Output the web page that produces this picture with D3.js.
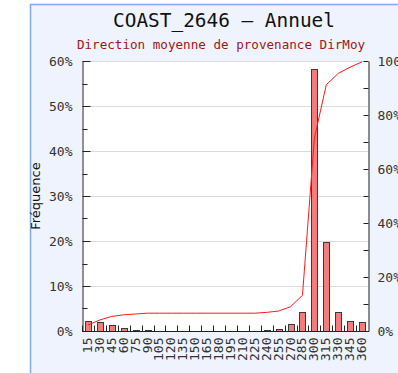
<!DOCTYPE html>
<html><head><meta charset="utf-8">
<script src="https://cdn.jsdelivr.net/npm/d3@7"></script>
<style>html,body{margin:0;padding:0;background:#fff;overflow:hidden}</style>
</head><body>
<svg id="c" width="398" height="373"></svg>
<script>
const categories = [15,30,45,60,75,90,105,120,135,150,165,180,195,210,225,240,255,270,285,300,315,330,345,360];
const frequency = [2.2,1.9,1.3,0.6,0.3,0.3,0,0,0,0,0,0,0,0,0,0.3,0.5,1.6,4.2,58.2,19.8,4.2,2.3,2.0];
const leftTicks = [0,10,20,30,40,50,60];
const rightTicks = [0,20,40,60,80,100];
const title = "COAST_2646 – Annuel";
const subtitle = "Direction moyenne de provenance DirMoy";
const yTitle = "Fréquence";

const cumulative = Array.from(d3.cumsum(frequency));
const svg = d3.select("#c");
const M = {l:82, r:368, t:61, b:331};
const mono = "'DejaVu Sans Mono', monospace";

svg.append("rect").attr("x",30.5).attr("y",4.5).attr("width",420).attr("height",420)
  .attr("fill","#eef3fd").attr("stroke","#7fa8ee").attr("stroke-width",1.5);
svg.append("rect").attr("x",M.l).attr("y",M.t).attr("width",M.r-M.l).attr("height",M.b-M.t).attr("fill","#fff");

svg.append("text").attr("x",224).attr("y",26.5).attr("text-anchor","middle")
  .attr("font-family",mono).attr("font-size",19.4).attr("fill","#111").text(title);
svg.append("text").attr("x",221).attr("y",48.7).attr("text-anchor","middle")
  .attr("font-family",mono).attr("font-size",12.6).attr("fill","#a01515").text(subtitle);

const x = d3.scaleBand().domain(categories).range([M.l,M.r]).padding(0);
const y = d3.scaleLinear().domain([0,60]).range([M.b,M.t]);
const y2 = d3.scaleLinear().domain([0,100]).range([M.b,M.t]);

// gridlines
svg.append("g").selectAll("line").data(leftTicks.filter(d=>d>0)).join("line")
  .attr("x1",M.l).attr("x2",M.r).attr("y1",d=>Math.round(y(d))+0.5).attr("y2",d=>Math.round(y(d))+0.5)
  .attr("stroke","#dcdcdc").attr("stroke-width",1);

// bars
const bw = 6;
svg.append("g").selectAll("rect").data(categories.map((c,i)=>({c,v:frequency[i]})).filter(d=>d.v>0)).join("rect")
  .attr("x",d=>Math.round(x(d.c)+x.bandwidth()/2-bw/2)+0.5)
  .attr("y",d=>Math.round(y(d.v))+0.5)
  .attr("width",bw)
  .attr("height",d=>Math.max(0,Math.round(y(0))-Math.round(y(d.v))))
  .attr("fill","#f47c7c").attr("stroke","#3a3a3a").attr("stroke-width",1);

// cumulative line
const line = d3.line().x((d,i)=>x(categories[i])+x.bandwidth()/2).y(d=>y2(d));
svg.append("path").datum(cumulative).attr("d",line).attr("fill","none")
  .attr("stroke","#ff1a1a").attr("stroke-width",1);

// left axis
const gl = svg.append("g").attr("transform",`translate(${M.l+0.5},0)`);
gl.call(d3.axisLeft(y).tickValues(leftTicks).tickSize(0).tickFormat(d=>d+"%"));
gl.select(".domain").attr("stroke","#222");
gl.selectAll("text").attr("font-family",mono).attr("font-size",13).attr("fill","#333").attr("x",-10);
gl.selectAll(".mj").data(d3.range(0,61,5)).join("line").attr("class","mj")
  .attr("x1",0).attr("x2",d=>d%10===0?8:5).attr("y1",d=>Math.round(y(d))+0.5).attr("y2",d=>Math.round(y(d))+0.5)
  .attr("stroke","#222");

// right axis
const gr = svg.append("g").attr("transform",`translate(${M.r+0.5},0)`);
gr.call(d3.axisRight(y2).tickValues(rightTicks).tickSize(0).tickFormat(d=>d+"%"));
gr.select(".domain").attr("stroke","#222");
gr.selectAll("text").attr("font-family",mono).attr("font-size",13).attr("fill","#333").attr("x",9);
gr.selectAll(".mj").data(d3.range(0,101,10)).join("line").attr("class","mj")
  .attr("x1",0).attr("x2",-5).attr("y1",d=>Math.round(y2(d))+0.5).attr("y2",d=>Math.round(y2(d))+0.5)
  .attr("stroke","#222");

// bottom axis
const gb = svg.append("g").attr("transform",`translate(0,${M.b+0.5})`);
gb.append("line").attr("x1",M.l).attr("x2",M.r+1).attr("stroke","#222");
gb.selectAll(".tk").data(categories).join("line").attr("class","tk")
  .attr("x1",d=>Math.round(x(d))+0.5).attr("x2",d=>Math.round(x(d))+0.5).attr("y1",0).attr("y2",-6).attr("stroke","#222");
gb.selectAll("text").data(categories).join("text")
  .attr("transform",d=>`translate(${x(d)+x.bandwidth()/2+4},6) rotate(-90)`)
  .attr("text-anchor","end").attr("font-family",mono).attr("font-size",13).attr("fill","#333").text(d=>d);

// y title
svg.append("text").attr("transform",`translate(40,${(M.t+M.b)/2}) rotate(-90)`)
  .attr("text-anchor","middle").attr("font-family","'DejaVu Sans', sans-serif").attr("font-size",13)
  .attr("fill","#111").text(yTitle);
</script>
</body></html>
